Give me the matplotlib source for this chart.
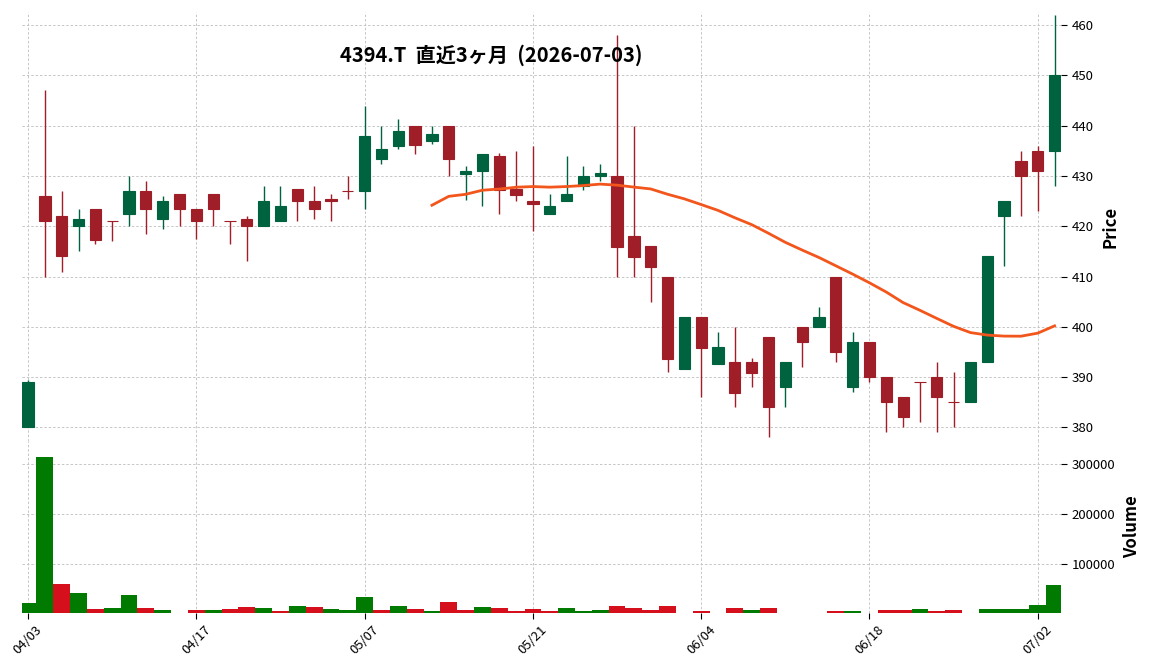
import matplotlib
matplotlib.use('Agg')
import matplotlib.pyplot as plt
import numpy as np
import pandas as pd

plt.rcParams['font.family'] = ['Noto Sans CJK JP', 'DejaVu Sans']

# 4394.T の日足 (2026/04/03 - 2026/07/03)
dates = ['04/03', '04/06', '04/07', '04/08', '04/09', '04/10', '04/13', '04/14', '04/15', '04/16',
         '04/17', '04/20', '04/21', '04/22', '04/23', '04/24', '04/27', '04/28', '04/30', '05/01',
         '05/07', '05/08', '05/11', '05/12', '05/13', '05/14', '05/15', '05/18', '05/19', '05/20',
         '05/21', '05/22', '05/25', '05/26', '05/27', '05/28', '05/29', '06/01', '06/02', '06/03',
         '06/04', '06/05', '06/08', '06/09', '06/10', '06/11', '06/12', '06/15', '06/16', '06/17',
         '06/18', '06/19', '06/22', '06/23', '06/24', '06/25', '06/26', '06/29', '06/30', '07/01',
         '07/02', '07/03']
opens = [380, 426, 422, 420, 423.5, 421.1, 422.4, 427, 421.4, 426.5,
         423.5, 426.5, 421.1, 421.5, 420, 421, 427.5, 425, 425.5, 427.1,
         427, 433.3, 436, 440, 437, 440, 430.4, 431, 434, 427.5,
         425, 422.4, 425, 428, 430, 430, 418, 416, 410, 391.7,
         402, 392.7, 393, 393, 398, 388, 400, 400, 410, 388,
         397, 390, 386, 389.1, 390, 385.1, 385, 393, 422, 433,
         435, 435]
highs = [389.5, 447, 427, 423.5, 423.5, 421.1, 430, 429, 426, 426.5,
         423.5, 426.5, 421.1, 422, 428, 428, 427.5, 428, 426.5, 430,
         444, 440, 441.3, 440, 440, 440, 432, 434.4, 434.5, 435,
         436, 426.4, 434, 432, 432.4, 458, 440, 416, 410, 402,
         402, 399, 400, 393.8, 398, 393, 400, 404, 410, 399,
         397, 390, 386, 389.1, 393, 391, 393, 414, 425, 435,
         436, 462]
lows = [380, 410, 411, 415, 416.5, 417, 420, 418.5, 419.5, 420,
        417.5, 420, 416.5, 413, 420, 421, 421, 421.5, 421, 425.5,
        423.5, 432.4, 435.4, 434.3, 436.3, 430, 425.3, 424, 422.5, 425,
        419, 422.4, 425, 427.3, 429, 410, 410, 405, 391, 391.7,
        386, 392.7, 384, 388, 378, 384, 392, 400, 393, 387,
        389, 379, 380, 381, 379, 380, 385, 393, 412, 422,
        423, 428]
closes = [389, 421, 414, 421.5, 417.3, 421, 427.1, 423.4, 425, 423.4,
          421, 423.4, 421, 420, 425, 424, 425, 423.4, 425, 427,
          438, 435.4, 439, 436.2, 438.3, 433.3, 431, 434.4, 427.3, 426.3,
          424.4, 424, 426.5, 430, 430.5, 415.8, 413.8, 411.8, 393.7, 402,
          395.7, 396, 386.8, 390.8, 384, 393, 397, 402, 395, 397,
          390, 385, 382, 389, 386, 385, 393, 414, 425, 430,
          431, 450]
volumes = [20700, 314700, 58700, 40700, 8700, 10700, 36700, 10700, 6700, 0,
           6700, 6700, 8700, 12700, 10700, 4700, 14700, 12700, 8700, 6700,
           32700, 6700, 14700, 8700, 4700, 22700, 6700, 12700, 10700, 4700,
           8700, 4700, 10700, 4700, 6700, 14700, 10700, 6700, 14700, 0,
           4700, 0, 10700, 6700, 10700, 0, 0, 0, 4700, 4700,
           0, 6700, 6700, 8700, 4700, 6700, 0, 8700, 8700, 8700,
           16700, 56700]
tick_dates = ['04/03', '04/17', '05/07', '05/21', '06/04', '06/18', '07/02']
title = '4394.T  直近3ヶ月  (2026-07-03)'

df = pd.DataFrame({'Open': opens, 'High': highs, 'Low': lows,
                   'Close': closes, 'Volume': volumes}, index=dates)
df['MA25'] = df['Close'].rolling(25).mean()
x = np.arange(len(df))

up_c, down_c = '#006340', '#a01e28'
vup_c, vdown_c = '#007a00', '#d5101c'
grid_kw = dict(color='#c6c6c6', linestyle=(0, (2.5, 2)), linewidth=0.7)

fig = plt.figure(figsize=(11.52, 6.70), dpi=100)
ax = fig.add_axes([0.0191, 0.3418, 0.9019, 0.6403])
axv = fig.add_axes([0.0191, 0.0851, 0.9019, 0.2567], sharex=ax)

# ローソク足
up = df['Close'] >= df['Open']
ccol = np.where(up, up_c, down_c)
ax.vlines(x, df['Low'], df['High'], colors=ccol, linewidth=1.0, zorder=2)
ax.bar(x, df['Close'] - df['Open'], bottom=df['Open'], width=0.67,
       color=ccol, edgecolor=ccol, linewidth=0.8, zorder=3)
ax.plot(x, df['MA25'], color='#f2561c', linewidth=2.0, zorder=4)

# 出来高 (前日終値との比較で色分け)
vup = df['Close'].diff().fillna(1) >= 0
axv.bar(x, df['Volume'], width=1.0, color=np.where(vup, vup_c, vdown_c), linewidth=0)

ax.set_xlim(-0.36, 61.38)
ax.set_ylim(377.3, 462.6)
axv.set_ylim(1500, 346600)

tick_pos = [dates.index(d) for d in tick_dates]
axv.set_xticks(tick_pos)
axv.set_xticklabels(tick_dates, rotation=45, fontsize=9.5)
ax.tick_params(axis='x', bottom=False, labelbottom=False)
ax.set_yticks([380, 390, 400, 410, 420, 430, 440, 450, 460])
axv.set_yticks([100000, 200000, 300000])
axv.set_yticklabels(['100000', '200000', '300000'])

for a in (ax, axv):
    for s in a.spines.values():
        s.set_visible(False)
    a.grid(True, **grid_kw)
    a.set_axisbelow(True)
    a.yaxis.tick_right()
    a.yaxis.set_label_position('right')
    a.tick_params(axis='y', labelsize=9.5, length=4)
axv.tick_params(axis='x', length=4)

ax.set_ylabel('Price', fontsize=12, fontweight='bold', labelpad=6)
axv.set_ylabel('Volume', fontsize=12, fontweight='bold', labelpad=6)

fig.text(0.426, 0.918, title, ha='center', va='center', fontsize=14.5, fontweight='bold')

fig.savefig('out.png', dpi=100)
